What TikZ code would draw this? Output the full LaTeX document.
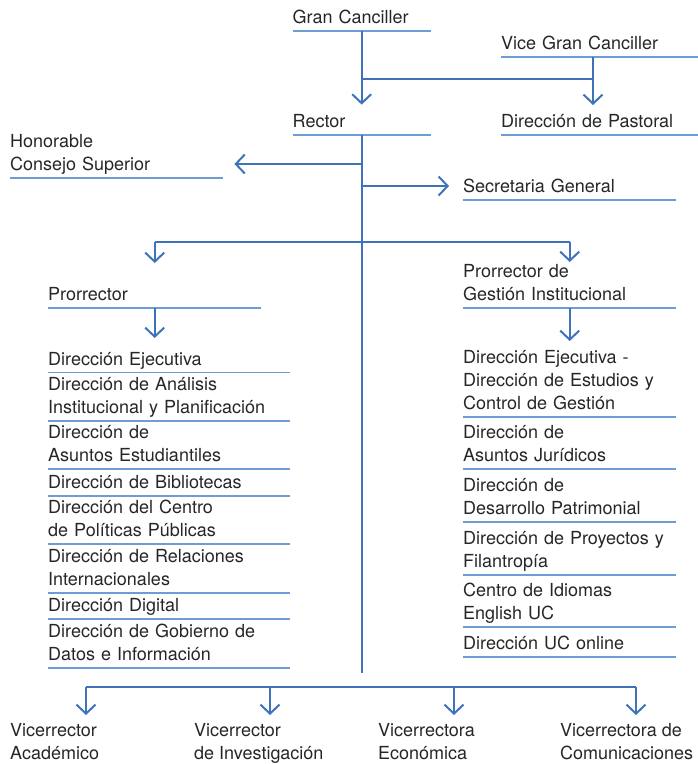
\documentclass[tikz,border=0pt]{standalone}
\usepackage{fontspec}
\setmainfont{TeX Gyre Heros}
\usetikzlibrary{arrows.meta,positioning,calc}
\definecolor{ucblue}{HTML}{3E73B9}
\definecolor{ucline}{HTML}{6E9CD3}
\definecolor{uctext}{HTML}{262626}

\begin{document}
\begin{tikzpicture}[x=1pt,y=-1pt,
  txt/.style={anchor=south west, inner xsep=0pt, inner ysep=0pt, align=left, text=uctext,
    font=\fontsize{18}{23}\selectfont, execute at begin node=\strut, execute at end node=\strut},
  unit/.style={txt, append after command={(\tikzlastnode.south west) edge[draw=ucline, line width=1.2pt] (\tikzlastnode.south east)}},
  link/.style={draw=ucblue, line width=2pt},
  arr/.style={link, -{Straight Barb[length=9pt,width=19pt]}}]
\useasboundingbox (0,0) rectangle (698,764);

\node[unit, text width=138pt] (gc) at (292.5,31) {Gran Canciller};
\node[unit, text width=197pt] (vgc) at (501,57) {Vice Gran Canciller};
\node[unit, text width=138pt] (rector) at (292.5,135) {Rector};
\node[unit, text width=197pt] (pastoral) at (501,135) {Dirección de Pastoral};
\node[unit, text width=213pt] (hcs) at (10,178) {Honorable\\Consejo Superior};
\node[unit, text width=213pt] (sg) at (463,200) {Secretaria General};
\node[unit, text width=213pt] (pro) at (48,308) {Prorrector};
\node[unit, text width=213pt] (pgi) at (463,308) {Prorrector de\\Gestión Institucional};

\foreach \y/\t [count=\i] in {372.5/{Dirección Ejecutiva}, 421/{Dirección de Análisis\\Institucional y Planificación},
    469/{Dirección de\\Asuntos Estudiantiles}, 496/{Dirección de Bibliotecas}, 544/{Dirección del Centro\\de Políticas Públicas},
    593/{Dirección de Relaciones\\Internacionales}, 619/{Dirección Digital}, 668/{Dirección de Gobierno de\\Datos e Información}} {
  \node[unit, text width=242pt] (pl\i) at (48,\y) {\t};
}
\foreach \y/\t [count=\i] in {417/{Dirección Ejecutiva -\\Dirección de Estudios y\\Control de Gestión}, 469/{Dirección de\\Asuntos Jurídicos},
    522/{Dirección de\\Desarrollo Patrimonial}, 575/{Dirección de Proyectos y\\Filantropía}, 627/{Centro de Idiomas\\English UC},
    657/{Dirección UC online}} {
  \node[unit, text width=213pt] (pr\i) at (463,\y) {\t};
}

\coordinate (vx) at ($(vgc.south west)+(92,0)$);
\coordinate (mainend) at (rector.south |- 0,673);

\draw[arr, shorten >=7pt] (gc.south) -- (rector.north);
\draw[link] (gc.south |- 0,79) -- (vx |- 0,79);
\draw[arr] (vx) -- (vx |- 0,105);
\draw[link] (rector.south) -- (mainend);
\draw[arr, shorten >=11pt] (rector.south |- 0,164) -- (hcs.east |- 0,164);
\draw[arr, shorten >=14pt] (rector.south |- 0,186) -- (sg.west |- 0,186);
\draw[link] (pro.north |- 0,242) -- (pgi.north |- 0,242);
\draw[arr] (pro.north |- 0,242) -- (pro.north |- 0,263);
\draw[arr] (pgi.north |- 0,242) -- (pgi.north |- 0,262);
\draw[arr] (pro.south) -- (pro.south |- 0,338);
\draw[arr] (pgi.south) -- (pgi.south |- 0,341);

\foreach \x/\t [count=\i] in {10/{Vicerrector\\Académico}, 194/{Vicerrector\\de Investigación},
    378/{Vicerrectora\\Económica}, 560/{Vicerrectora de\\Comunicaciones}} {
  \node[txt] (v\i) at (\x,767) {\t};
  \coordinate (a\i) at ($(v\i.north west)+(76,0)$);
  \draw[arr] (a\i |- 0,687) -- (a\i |- 0,715);
}
\draw[link] (a1 |- 0,687) -- (a4 |- 0,687);
\end{tikzpicture}
\end{document}
